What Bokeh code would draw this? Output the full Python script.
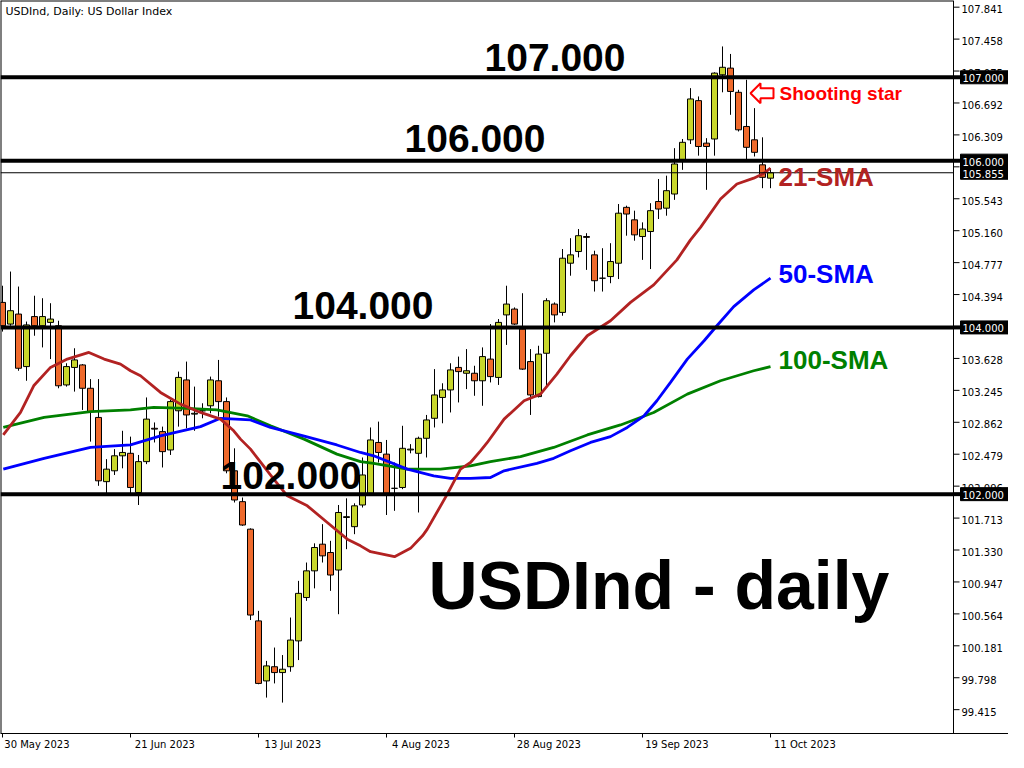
import numpy as np
from bokeh.plotting import figure
from bokeh.models import Span, FixedTicker, Range1d, ColumnDataSource
from bokeh.core.properties import value
from bokeh.embed import file_html
from bokeh.resources import INLINE

# ---------------- data ----------------
date_labels = ["30 May 2023", "21 Jun 2023", "13 Jul 2023", "4 Aug 2023",
               "28 Aug 2023", "19 Sep 2023", "11 Oct 2023"]
date_ticks = [0, 16, 32, 48, 64, 80, 96]

opens = [104.30, 104.04, 104.16, 103.53, 104.13, 104.02, 104.06, 104.02, 103.31, 103.52,
         103.55, 103.27, 102.92, 102.15, 102.28, 102.46, 102.49, 102.02, 102.39, 102.79,
         102.75, 102.53, 103.00, 103.37, 102.96, 103.00, 103.06, 103.36, 103.11, 102.28,
         101.91, 101.58, 100.48, 99.76, 99.93, 99.86, 99.93, 100.24, 100.76, 101.08,
         101.40, 101.30, 101.09, 101.72, 101.61, 101.87, 102.01, 102.62, 102.48, 102.07,
         102.08, 102.53, 102.49, 102.67, 102.91, 103.16, 103.25, 103.52, 103.45, 103.45,
         103.36, 103.62, 103.40, 104.15, 104.22, 103.98, 103.59, 103.17, 103.69, 104.28,
         104.18, 104.77, 104.91, 105.09, 104.87, 104.59, 104.61, 104.77, 105.44, 105.29,
         105.09, 105.15, 105.51, 105.43, 105.60, 106.01, 106.25, 106.72, 106.21, 106.26,
         107.03, 107.11, 106.82, 106.41, 106.25, 105.95, 105.79]
highs = [104.50, 104.67, 104.49, 104.07, 104.38, 104.35, 104.29, 104.08, 103.57, 103.75,
         103.56, 103.38, 103.38, 102.42, 102.54, 102.76, 102.69, 102.47, 103.16, 102.86,
         102.81, 103.13, 103.47, 103.59, 103.29, 103.09, 103.41, 103.61, 103.16, 102.55,
         101.96, 101.59, 100.60, 100.00, 100.16, 100.07, 100.52, 100.96, 101.18, 101.41,
         101.64, 101.44, 101.87, 101.95, 101.89, 102.44, 102.80, 102.87, 102.65, 102.38,
         102.82, 102.60, 102.69, 102.95, 103.50, 103.33, 103.57, 103.65, 103.74, 103.54,
         103.76, 104.04, 104.10, 104.50, 104.24, 104.41, 103.74, 103.78, 104.35, 104.30,
         104.94, 105.07, 105.18, 105.13, 104.92, 104.95, 105.01, 105.48, 105.46, 105.40,
         105.26, 105.49, 105.78, 105.82, 106.15, 106.26, 106.87, 106.77, 106.27, 107.06,
         107.37, 107.28, 106.85, 106.97, 106.63, 106.28, 105.91]
lows = [103.95, 104.02, 103.48, 103.36, 103.90, 103.76, 103.62, 103.27, 103.29, 103.23,
        103.01, 102.63, 102.10, 102.01, 102.23, 102.31, 102.01, 101.87, 102.36, 102.62,
        102.32, 102.47, 102.81, 102.79, 102.76, 102.91, 102.97, 102.93, 102.25, 101.90,
        101.62, 100.49, 99.72, 99.56, 99.73, 99.50, 99.87, 100.01, 100.72, 100.87,
        101.18, 100.84, 100.56, 101.34, 101.52, 101.84, 101.98, 102.38, 101.75, 101.80,
        102.06, 102.49, 101.78, 102.44, 102.80, 102.85, 102.98, 103.10, 103.26, 103.18,
        103.06, 103.34, 103.31, 103.79, 104.03, 103.49, 102.95, 103.16, 103.30, 104.06,
        104.14, 104.62, 104.84, 104.69, 104.43, 104.43, 104.53, 104.58, 105.10, 105.04,
        104.81, 104.70, 105.30, 105.34, 105.53, 105.89, 106.20, 106.06, 105.65, 106.06,
        106.82, 106.55, 106.35, 106.01, 106.05, 105.67, 105.67]
closes = [104.02, 104.20, 103.51, 104.03, 104.02, 104.13, 104.10, 103.30, 103.53, 103.61,
          103.27, 102.99, 102.16, 102.30, 102.46, 102.50, 102.08, 102.39, 102.90, 102.78,
          102.51, 103.11, 103.40, 102.95, 102.97, 103.00, 103.37, 103.11, 102.28, 101.93,
          101.63, 100.55, 99.73, 99.94, 99.86, 99.90, 100.25, 100.81, 101.08, 101.36,
          101.26, 101.03, 101.78, 101.73, 101.86, 102.23, 102.65, 102.50, 102.01, 102.07,
          102.55, 102.54, 102.67, 102.89, 103.19, 103.25, 103.49, 103.47, 103.48, 103.36,
          103.65, 103.41, 104.06, 104.28, 104.04, 103.50, 103.19, 103.68, 104.32, 104.15,
          104.83, 104.87, 105.10, 105.08, 104.56, 104.59, 104.79, 105.37, 105.36, 105.11,
          105.18, 105.40, 105.42, 105.64, 105.96, 106.22, 106.74, 106.17, 106.17, 107.05,
          107.12, 106.83, 106.37, 106.16, 106.10, 105.80, 105.855]

sma21_x = [0.1, 2.25, 3.9, 6, 8.1, 10.8, 12.7, 14.75, 16, 17.25, 19.75, 22.25, 24.75, 27.25,
           28.9, 29.75, 31, 31.8, 33.9, 35.6, 38.1, 40.6, 43.1, 44.75, 46, 49, 51, 52.5, 53.1,
           55.6, 57.25, 58.5, 59.75, 60.6, 62.7, 65.2, 67.25, 69.3, 71, 73.1, 76, 78.5, 81.4,
           84.3, 86, 87.25, 89.75, 91.8, 93.9, 95.2, 96]
sma21_y = [102.71, 102.98, 103.30, 103.52, 103.62, 103.70, 103.62, 103.56, 103.48, 103.42,
           103.22, 103.08, 102.98, 102.90, 102.76, 102.66, 102.54, 102.44, 102.18, 101.98,
           101.86, 101.66, 101.46, 101.38, 101.31, 101.25, 101.35, 101.50, 101.58, 102.00,
           102.30, 102.38, 102.52, 102.62, 102.90, 103.12, 103.20, 103.44, 103.66, 103.90,
           104.08, 104.30, 104.51, 104.81, 105.05, 105.20, 105.54, 105.72, 105.79, 105.85, 105.91]
sma50_x = [0.1, 5.2, 11, 16, 19.75, 24.75, 27.25, 31, 33.5, 37.6, 41.8, 44.75, 46.4, 50.6,
           53.9, 56, 58.5, 61, 62.7, 66.8, 68.9, 71, 73.5, 76, 78.1, 80.2, 81.8, 83.5, 85.6,
           87.7, 89.3, 91.4, 93.9, 96]
sma50_y = [102.30, 102.43, 102.56, 102.59, 102.70, 102.81, 102.91, 102.89, 102.80, 102.70,
           102.59, 102.50, 102.46, 102.30, 102.22, 102.19, 102.19, 102.20, 102.28, 102.37,
           102.43, 102.52, 102.62, 102.69, 102.80, 102.94, 103.12, 103.34, 103.62, 103.84,
           104.02, 104.25, 104.45, 104.59]
sma100_x = [0.1, 5.2, 11, 16, 18.9, 23.1, 26.8, 30.6, 33.5, 37.7, 41.8, 44.75, 46.4, 50.6,
            54.75, 58.5, 61, 64.75, 68.9, 73.1, 77.25, 81.4, 85.6, 89.75, 93.9, 96]
sma100_y = [102.80, 102.92, 102.99, 103.01, 103.04, 103.03, 103.01, 102.94, 102.82, 102.66,
            102.48, 102.39, 102.37, 102.30, 102.30, 102.34, 102.39, 102.45, 102.56, 102.71,
            102.83, 102.98, 103.20, 103.36, 103.48, 103.53]

levels = [107.0, 106.0, 104.0, 102.0]
level_texts = ["107.000", "106.000", "104.000", "102.000"]
last_price = 105.855
price_ticks = [107.841, 107.458, 107.075, 106.692, 106.309, 105.926, 105.543, 105.160,
               104.777, 104.394, 104.011, 103.628, 103.245, 102.862, 102.479, 102.096,
               101.713, 101.330, 100.947, 100.564, 100.181, 99.798, 99.415]

# ---------------- geometry ----------------
W, H = 1008, 752
AXIS_H = 17            # bottom (date) axis band
FH = H - AXIS_H
PXB = 8.0              # px per bar
PXU = 83.6             # px per price unit
X0 = -0.25             # bar index at left edge
Y1 = 104.0 + 327.8 / PXU   # price at top edge
x_range = Range1d(X0, X0 + W / PXB)
y_range = Range1d(Y1 - FH / PXU, Y1)

def sx(px):  # pixel -> data x
    return X0 + px / PXB

def sy(py):  # pixel -> data y
    return Y1 - py / PXU

def base(py, fs):  # baseline pixel -> data y (compensates the svg text placement)
    return sy(py - 0.37 * fs)

XA = sx(953)  # right edge of the price area (price scale line)

BULL = "#C8D62C"
BEAR = "#EF6A2C"
RED = "#B22222"
BLUE = "#0000FF"
GREEN = "#008000"
FONT = "Liberation Sans"
AXF = "DejaVu Sans"

p = figure(width=W, height=H, x_range=x_range, y_range=y_range,
           output_backend="svg", toolbar_location=None, y_axis_location=None,
           min_border_left=0, min_border_top=0, min_border_right=0,
           min_border_bottom=AXIS_H)
p.xgrid.visible = False
p.ygrid.visible = False
p.outline_line_color = None
p.background_fill_color = "white"
p.border_fill_color = "white"

# bottom date axis: minor ticks mark the dates, labels sit to the right of them
label_pos = [t + 4.3 for t in date_ticks]
p.xaxis.ticker = FixedTicker(ticks=label_pos, minor_ticks=date_ticks)
p.xaxis.major_label_overrides = {lp: lab for lp, lab in zip(label_pos, date_labels)}
p.xaxis.major_label_text_font = AXF
p.xaxis.major_label_text_font_size = "10px"
p.xaxis.major_label_text_color = "black"
p.xaxis.major_tick_line_color = None
p.xaxis.major_tick_out = 3
p.xaxis.major_tick_in = 0
p.xaxis.minor_tick_line_color = "black"
p.xaxis.minor_tick_out = 4
p.xaxis.minor_tick_in = 0
p.xaxis.major_label_standoff = 1
p.xaxis.axis_line_color = "black"

# frame borders (top, left, price-scale line)
p.segment(x0=[X0], y0=[Y1], x1=[XA], y1=[Y1], line_color="black", line_width=2)
p.segment(x0=[X0], y0=[y_range.start], x1=[X0], y1=[Y1], line_color="black", line_width=2)
p.add_layout(Span(location=XA, dimension="height", line_color="black", line_width=1))

# candles
idx = np.arange(len(opens))
o = np.array(opens); c = np.array(closes)
src = ColumnDataSource(dict(
    x=idx, hi=highs, lo=lows,
    top=np.maximum(o, c), bot=np.minimum(o, c),
    col=[BULL if cc >= oo else BEAR for oo, cc in zip(o, c)]))
p.segment(x0="x", y0="lo", x1="x", y1="hi", source=src, line_color="black", line_width=1)
p.vbar(x="x", width=0.75, top="top", bottom="bot", source=src,
       fill_color="col", line_color="black", line_width=1)

# moving averages
p.line(sma100_x, sma100_y, line_color=GREEN, line_width=2.8)
p.line(sma50_x, sma50_y, line_color=BLUE, line_width=2.8)
p.line(sma21_x, sma21_y, line_color=RED, line_width=2.8)

# horizontal levels
p.segment(x0=[X0] * len(levels), y0=levels, x1=[XA] * len(levels), y1=levels,
          line_color="black", line_width=4)
p.segment(x0=[X0], y0=[last_price], x1=[XA], y1=[last_price], line_color="black", line_width=1)

# price scale ticks and labels
p.segment(x0=[XA] * len(price_ticks), y0=price_ticks, x1=[sx(959)] * len(price_ticks),
          y1=price_ticks, line_color="black", line_width=1)
p.text(x=[sx(961)] * len(price_ticks), y=price_ticks, text=[f"{v:.3f}" for v in price_ticks],
       text_font=value(AXF), text_font_size="10px", text_color="black",
       text_baseline="middle", text_align="left", y_offset=2)

# highlighted price boxes
box_vals = levels + [last_price]
box_txt = level_texts + [f"{last_price:.3f}"]
p.segment(x0=[XA] * len(levels), y0=levels, x1=[sx(960)] * len(levels), y1=levels,
          line_color="black", line_width=4)
p.rect(x=[sx(985)] * len(box_vals), y=box_vals, width=50, height=13,
       width_units="screen", height_units="screen", fill_color="black", line_color="black")
p.text(x=[sx(962)] * len(box_vals), y=box_vals, text=box_txt,
       text_font=value(AXF), text_font_size="10px", text_color="white",
       text_baseline="middle", text_align="left", y_offset=1)

# header
p.text(x=[sx(5)], y=[base(15, 11)], text=["USDInd, Daily:  US Dollar Index"],
       text_font=value(AXF), text_font_size="11px", text_color="black",
       text_baseline="alphabetic", text_align="left")

# big level texts
big = [("107.000", 484, 72), ("106.000", 404, 153), ("104.000", 292, 320), ("102.000", 220, 491)]
for t, px, py in big:
    p.text(x=[sx(px)], y=[base(py, 39)], text=[t], text_font=value(FONT), text_font_style="bold",
           text_font_size="39px", text_color="black", text_baseline="alphabetic",
           text_align="left")

p.text(x=[sx(428)], y=[base(611, 68)], text=["USDInd - daily"], text_font=value(FONT),
       text_font_style="bold", text_font_size="68px", text_color="black",
       text_baseline="alphabetic", text_align="left")

for t, col, py in [("21-SMA", RED, 187), ("50-SMA", BLUE, 284), ("100-SMA", GREEN, 370)]:
    p.text(x=[sx(778)], y=[base(py, 26)], text=[t], text_font=value(FONT), text_font_style="bold",
           text_font_size="26px", text_color=col, text_baseline="alphabetic", text_align="left")

# "Shooting star" callout with a hollow arrow
p.text(x=[sx(779)], y=[base(100, 19)], text=["Shooting star"], text_font=value(FONT),
       text_font_style="bold", text_font_size="19px", text_color="#FF0000",
       text_baseline="alphabetic", text_align="left")
arrow_px = [(750, 93), (760, 83), (760, 88), (773, 88), (773, 98), (760, 98), (760, 103)]
p.patch(x=[sx(a) for a, b in arrow_px], y=[sy(b) for a, b in arrow_px],
        fill_color="white", line_color="#FF0000", line_width=2)

open("out.html", "w").write(file_html(p, INLINE))
